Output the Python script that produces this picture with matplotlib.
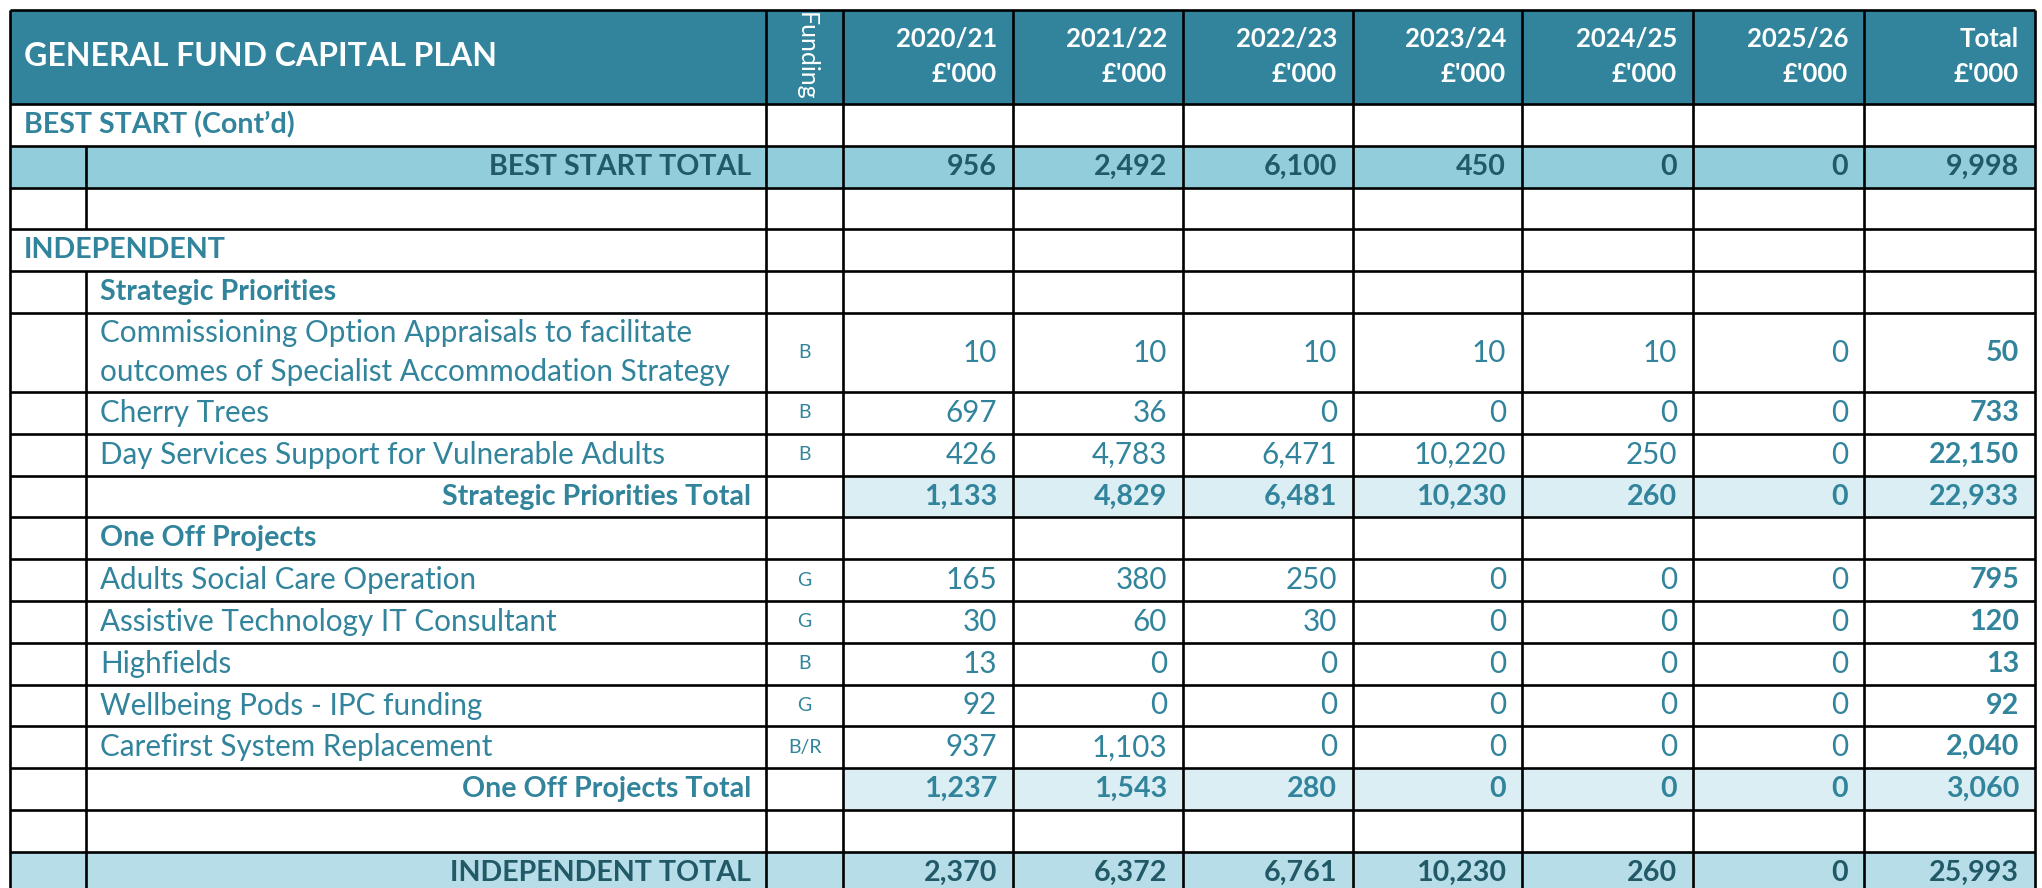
import matplotlib.pyplot as plt
from matplotlib.patches import Rectangle

plt.rcParams['font.family'] = ['Lato', 'DejaVu Sans']

title = 'GENERAL FUND CAPITAL PLAN'
funding_head = 'Funding'
years = ['2020/21', '2021/22', '2022/23', '2023/24', '2024/25', '2025/26', 'Total']
unit = "£'000"

row_labels = ["BEST START (Cont\u2019d)", 'BEST START TOTAL', '', 'INDEPENDENT', 'Strategic Priorities',
              'Commissioning Option Appraisals to facilitate\noutcomes of Specialist Accommodation Strategy',
              'Cherry Trees', 'Day Services Support for Vulnerable Adults', 'Strategic Priorities Total',
              'One Off Projects', 'Adults Social Care Operation', 'Assistive Technology IT Consultant',
              'Highfields', 'Wellbeing Pods - IPC funding', 'Carefirst System Replacement',
              'One Off Projects Total', '', 'INDEPENDENT TOTAL']
row_kind = ['section', 'grand1', 'blank', 'section', 'group', 'item', 'item', 'item', 'sub',
            'group', 'item', 'item', 'item', 'item', 'item', 'sub', 'blank', 'grand2']
funding = ['', '', '', '', '', 'B', 'B', 'B', '', '', 'G', 'G', 'B', 'G', 'B/R', '', '', '']

N = None
v2020 = [N, 956, N, N, N, 10, 697, 426, 1133, N, 165, 30, 13, 92, 937, 1237, N, 2370]
v2021 = [N, 2492, N, N, N, 10, 36, 4783, 4829, N, 380, 60, 0, 0, 1103, 1543, N, 6372]
v2022 = [N, 6100, N, N, N, 10, 0, 6471, 6481, N, 250, 30, 0, 0, 0, 280, N, 6761]
v2023 = [N, 450, N, N, N, 10, 0, 10220, 10230, N, 0, 0, 0, 0, 0, 0, N, 10230]
v2024 = [N, 0, N, N, N, 10, 0, 250, 260, N, 0, 0, 0, 0, 0, 0, N, 260]
v2025 = [N, 0, N, N, N, 0, 0, 0, 0, N, 0, 0, 0, 0, 0, 0, N, 0]
vtotal = [N, 9998, N, N, N, 50, 733, 22150, 22933, N, 795, 120, 13, 92, 2040, 3060, N, 25993]
columns = [v2020, v2021, v2022, v2023, v2024, v2025, vtotal]

teal = '#31849B'
dark = '#215967'
head_bg = '#31849B'
fills = {'grand1': '#92CDDC', 'grand2': '#B7DEE8', 'sub': '#DAEEF3'}

W, H = 2042, 888
fig = plt.figure(figsize=(W / 100, H / 100), dpi=100)
ax = fig.add_axes([0, 0, 1, 1])
ax.set_xlim(0, W)
ax.set_ylim(H, 0)
ax.axis('off')

xs = [10, 86, 766, 843, 1013, 1183, 1353, 1522, 1693, 1864, 2035]
top, head_h, rh, rh2 = 10, 94, 41.8, 79
ys = [top, top + head_h]
for lab in row_labels:
    ys.append(ys[-1] + (rh2 if '\n' in lab else rh))

lw = 1.9
fs = 21.3    # regular body text
fsb = 20.6   # bold body text
fsh = 18.5   # header years

# header
ax.add_patch(Rectangle((xs[0], ys[0]), xs[-1] - xs[0], head_h, color=head_bg, lw=0))
ax.text(24, (ys[0] + ys[1]) / 2, title, color='white', fontsize=23, fontweight='bold', ha='left', va='center')
ax.text((xs[2] + xs[3]) / 2 + 2, ys[0] + 2, funding_head, color='white', fontsize=18, fontweight='normal',
        rotation=270, ha='center', va='top')
for j, yr in enumerate(years):
    xr = xs[j + 4] - 16
    ax.text(xr, ys[0] + 29, yr, color='white', fontsize=fsh, fontweight='bold', ha='right', va='center')
    ax.text(xr, ys[0] + 64, unit, color='white', fontsize=fsh, fontweight='bold', ha='right', va='center')

for i, lab in enumerate(row_labels):
    kind = row_kind[i]
    y0, y1 = ys[i + 1], ys[i + 2]
    yc = (y0 + y1) / 2
    if kind in ('grand1', 'grand2'):
        ax.add_patch(Rectangle((xs[0], y0), xs[-1] - xs[0], y1 - y0, color=fills[kind], lw=0))
    elif kind == 'sub':
        ax.add_patch(Rectangle((xs[3], y0), xs[-1] - xs[3], y1 - y0, color=fills[kind], lw=0))
    col = dark if kind.startswith('grand') else teal
    bold = kind in ('section', 'group', 'grand1', 'grand2', 'sub')
    if kind == 'section':
        ax.text(24, yc, lab, color=col, fontsize=fsb, fontweight='bold', ha='left', va='center')
    elif kind in ('group', 'item'):
        lines = lab.split('\n')
        for k, ln in enumerate(lines):
            ax.text(xs[1] + 14, yc + (k - (len(lines) - 1) / 2) * 39, ln, color=col,
                    fontsize=fsb if bold else fs, fontweight='bold' if bold else 'normal',
                    ha='left', va='center')
    elif kind in ('sub', 'grand1', 'grand2'):
        ax.text(xs[2] - 15, yc, lab, color=col, fontsize=fsb, fontweight='bold', ha='right', va='center')
    if funding[i]:
        ax.text((xs[2] + xs[3]) / 2, yc, funding[i], color=teal, fontsize=14, ha='center', va='center')
    for j, c in enumerate(columns):
        v = c[i]
        if v is None:
            continue
        b = bold or j == len(columns) - 1
        ax.text(xs[j + 4] - 16, yc, f'{v:,}', color=col, fontsize=fsb if b else fs,
                fontweight='bold' if b else 'normal', ha='right', va='center')

# grid lines
ax.hlines(ys, xs[0], xs[-1], color='black', lw=lw)
ax.vlines(xs[0], ys[0], ys[-1], color='black', lw=lw)
ax.vlines(xs[2:], ys[0], ys[-1], color='black', lw=lw)
for i, kind in enumerate(row_kind):
    if kind != 'section':
        ax.vlines(xs[1], ys[i + 1], ys[i + 2], color='black', lw=lw)

fig.savefig('out.png', dpi=100)
